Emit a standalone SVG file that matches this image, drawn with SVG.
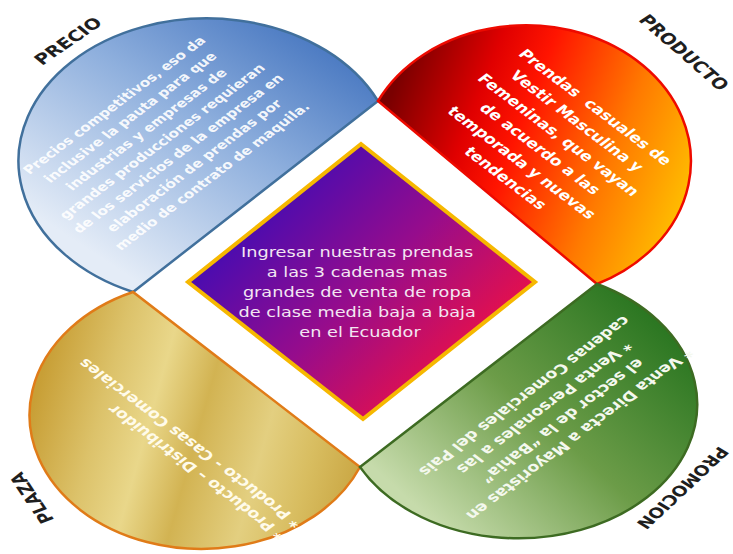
<svg xmlns="http://www.w3.org/2000/svg" width="733" height="554" viewBox="0 0 733 554">
<defs>
<style>
.lbl{font-family:"DejaVu Sans",Verdana,sans-serif;font-weight:bold;font-size:20px;fill:#1e1e1e;text-anchor:middle}
.tb{font-family:"DejaVu Sans",Verdana,sans-serif;font-weight:bold;text-anchor:middle}
.tr{font-family:"DejaVu Sans",Verdana,sans-serif;font-weight:bold;text-anchor:start}
.shape{stroke-width:2.5}
</style>
<linearGradient id="gBlue" gradientUnits="userSpaceOnUse" x1="320" y1="30" x2="150" y2="290">
<stop offset="0" stop-color="#4676c0"/>
<stop offset="0.45" stop-color="#8eafdd"/>
<stop offset="1" stop-color="#e4ecf7"/>
</linearGradient>
<linearGradient id="gRed" gradientUnits="userSpaceOnUse" x1="385" y1="110" x2="690" y2="230">
<stop offset="0" stop-color="#7a0000"/>
<stop offset="0.25" stop-color="#e00000"/>
<stop offset="0.4" stop-color="#ff1400"/>
<stop offset="0.7" stop-color="#ff7a00"/>
<stop offset="1" stop-color="#ffc800"/>
</linearGradient>
<linearGradient id="gGold" gradientUnits="userSpaceOnUse" x1="40" y1="380" x2="360" y2="470">
<stop offset="0" stop-color="#c89f36"/>
<stop offset="0.2" stop-color="#dcc26a"/>
<stop offset="0.35" stop-color="#e9d78a"/>
<stop offset="0.5" stop-color="#d2b352"/>
<stop offset="0.7" stop-color="#e3cf80"/>
<stop offset="0.85" stop-color="#d8bd60"/>
<stop offset="1" stop-color="#caa744"/>
</linearGradient>
<linearGradient id="gGreen" gradientUnits="userSpaceOnUse" x1="620" y1="290" x2="420" y2="510">
<stop offset="0" stop-color="#2c7722"/>
<stop offset="0.5" stop-color="#6c9c48"/>
<stop offset="1" stop-color="#c6dbab"/>
</linearGradient>
<linearGradient id="gDia" gradientUnits="userSpaceOnUse" x1="270" y1="200" x2="450" y2="380">
<stop offset="0" stop-color="#4a0cb0"/>
<stop offset="0.5" stop-color="#960c8c"/>
<stop offset="1" stop-color="#e8104a"/>
</linearGradient>
</defs>
<rect width="733" height="554" fill="#ffffff"/>

<g id="node-precio">
<path class="shape" d="M378,101 A188.5,142.5 0 1 0 133,292 Z" fill="url(#gBlue)" stroke="#41709c"/>
<text class="tb" font-size="15.5" fill="#ffffff" fill-opacity="0.92" transform="translate(164,140) scale(1,0.756) rotate(-45)">
<tspan x="0" y="-62.3">Precios competitivos, eso da</tspan>
<tspan x="0" y="-39.7">inclusive la pauta para que</tspan>
<tspan x="0" y="-17.1">industrias y empresas de</tspan>
<tspan x="0" y="5.5">grandes producciones requieran</tspan>
<tspan x="0" y="28.1">de los servicios de la empresa en</tspan>
<tspan x="0" y="50.7">elaboración de prendas por</tspan>
<tspan x="0" y="73.3">medio de contrato de maquila.</tspan>
</text>
<text class="lbl" transform="translate(68,41) scale(1,0.756) rotate(-42)" y="7">PRECIO</text>
</g>

<g id="node-producto">
<path class="shape" d="M378,101 A165,136 0 1 1 597,284 Z" fill="url(#gRed)" stroke="#ee0a00"/>
<text class="tb" font-size="17.5" fill="#ffffff" transform="translate(551.5,143.5) scale(1,0.756) rotate(45)">
<tspan x="0" y="-59">Prendas&#160; casuales de</tspan>
<tspan x="0" y="-33">Vestir Masculina y</tspan>
<tspan x="0" y="-7">Femeninas, que vayan</tspan>
<tspan x="0" y="19">de acuerdo a las</tspan>
<tspan x="0" y="45">temporada y nuevas</tspan>
<tspan x="0" y="71">tendencias</tspan>
</text>
<text class="lbl" transform="translate(684,52.5) scale(1,0.756) rotate(49)" y="7">PRODUCTO</text>
</g>

<g id="node-plaza">
<path class="shape" d="M133,292 A172,134 0 1 0 360,467 Z" fill="url(#gGold)" stroke="#e07b18"/>
<text class="tr" font-size="17.5" fill="#fffbea" transform="translate(287,534) scale(1,0.756) rotate(-135)">
<tspan x="0" y="0">* Producto – Distribuidor</tspan>
<tspan x="0" y="22.5">* Producto - Casas Comerciales</tspan>
</text>
<text class="lbl" transform="translate(31.7,498) scale(1,0.756) rotate(-117)" y="7">PLAZA</text>
</g>

<g id="node-promocion">
<path class="shape" d="M597,284 A179,134 0 1 1 360,467 Z" fill="url(#gGreen)" stroke="#3d6b22"/>
<text class="tb" font-size="17.5" fill="#f4f8ee" transform="translate(551,416) scale(1,0.756) rotate(135)">
<tspan x="0" y="-31.2">* Venta Directa a Mayoristas en</tspan>
<tspan x="0" y="-6.4">el sector de la “Bahia”</tspan>
<tspan x="0" y="18.4">* Venta Personales a las</tspan>
<tspan x="0" y="43.2">cadenas Comerciales del Pais</tspan>
</text>
<text class="lbl" font-size="19" style="font-size:19px" transform="translate(683,488) scale(1,0.756) rotate(129)" y="7">PROMOCION</text>
</g>

<g id="node-center">
<polygon points="361,144 535,282 363,419 188,282" fill="url(#gDia)" stroke="#f6b800" stroke-width="4" stroke-linejoin="miter"/>
<text font-family="DejaVu Sans, Verdana, sans-serif" font-size="17.7" fill="#f3e6f2" text-anchor="middle" transform="scale(1,0.756)">
<tspan x="360" y="340">Ingresar nuestras prendas</tspan>
<tspan x="360" y="366.4">a las 3 cadenas mas</tspan>
<tspan x="360" y="392.9">grandes de venta de ropa</tspan>
<tspan x="360" y="419.3">de clase media baja a baja</tspan>
<tspan x="360" y="445.8">en el Ecuador</tspan>
</text>
</g>

<g id="connectors"/>
</svg>
